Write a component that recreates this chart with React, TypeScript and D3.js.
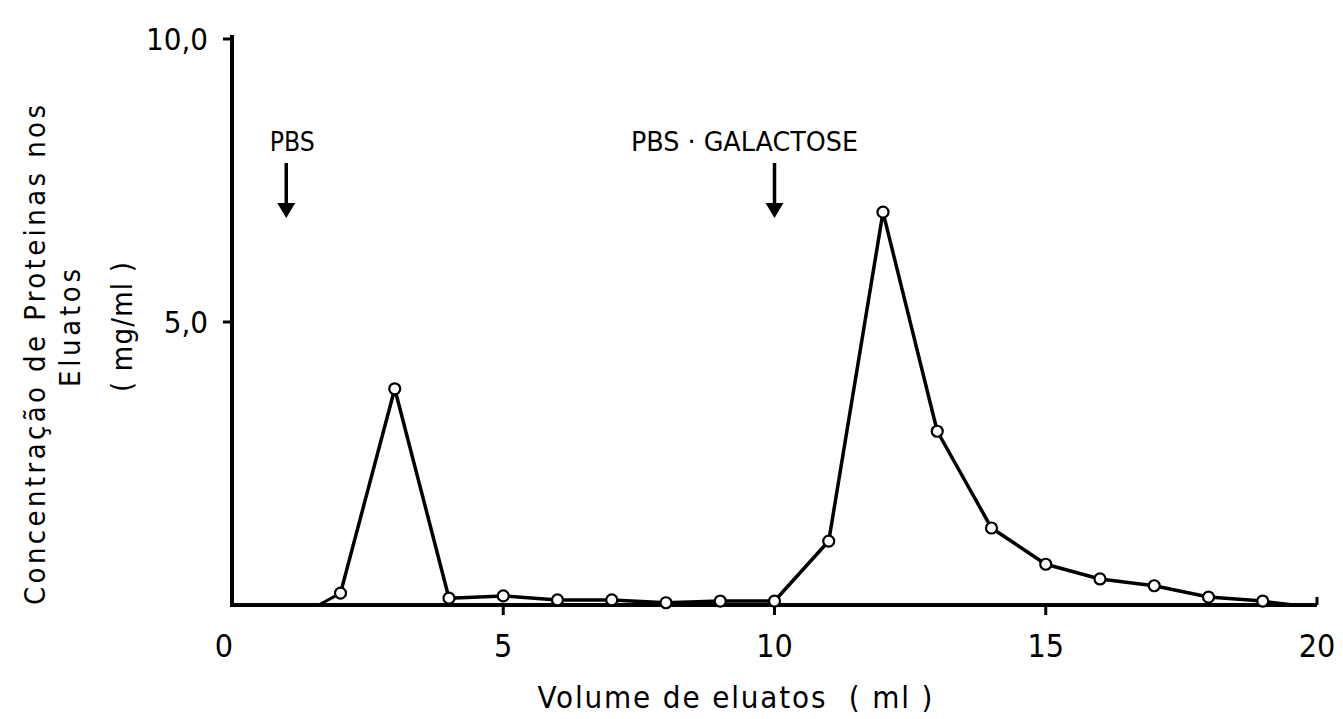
import * as d3 from "d3";

// Eluted volume (ml) and protein concentration (mg/ml)
const volumes = [2, 3, 4, 5, 6, 7, 8, 9, 10, 11, 12, 13, 14, 15, 16, 17, 18, 19];
const concentrations = [0.21, 3.82, 0.12, 0.16, 0.09, 0.09, 0.04, 0.07, 0.07, 1.13, 6.94, 3.07, 1.36, 0.72, 0.46, 0.34, 0.14, 0.07];

const xTicks = [0, 5, 10, 15, 20];
const xTickLabels = ["0", "5", "10", "15", "20"];
const yTicks = [5, 10];
const yTickLabels = ["5,0", "10,0"];

const markerVolumes = [1, 10];
const markerLabels = ["PBS", "PBS · GALACTOSE"];

const W = 1343;
const H = 719;
const FONT = "'DejaVu Sans Condensed', 'DejaVu Sans', sans-serif";

// label placement relative to arrow (px) and label widths
const labelShift = [6, -30];
const labelWidth = [45, 227];

export default function App() {
  const x = d3.scaleLinear().domain([0, 20]).range([232, 1317]);
  const y = d3.scaleLinear().domain([0, 10]).range([605, 39]);

  const points = volumes.map((v, i) => ({ v, c: concentrations[i] }));
  const line = d3
    .line<{ v: number; c: number }>()
    .x((d) => x(d.v))
    .y((d) => y(d.c));

  return (
    <svg
      width={W}
      height={H}
      viewBox={`0 0 ${W} ${H}`}
      style={{ position: "absolute", left: 0, top: 0, background: "#fff" }}
      fontFamily={FONT}
    >
      {/* axes */}
      <line x1={x(0)} x2={x(0)} y1={y(0) + 2} y2={y(10) - 4} stroke="#000" strokeWidth={4} />
      <line x1={x(0) - 2} x2={x(20)} y1={y(0)} y2={y(0)} stroke="#000" strokeWidth={4} />

      {yTicks.map((t, i) => (
        <g key={t}>
          <line x1={x(0) - 9} x2={x(0)} y1={y(t)} y2={y(t)} stroke="#000" strokeWidth={3} />
          <text x={x(0) - 24} y={y(t)} dy="0.36em" textAnchor="end" fontSize={31}>
            {yTickLabels[i]}
          </text>
        </g>
      ))}

      {xTicks.map((t, i) => (
        <g key={t}>
          {t > 0 && (
            <line x1={x(t)} x2={x(t)} y1={y(0)} y2={y(0) + (t === 20 ? -8 : 10)} stroke="#000" strokeWidth={3} />
          )}
          <text x={x(t) - (t === 0 ? 8 : 0)} y={657} textAnchor="middle" fontSize={32}>
            {xTickLabels[i]}
          </text>
        </g>
      ))}

      {/* baseline trace along the axis */}
      <line x1={x(1.6)} x2={x(2)} y1={y(0)} y2={y(concentrations[0])} stroke="#000" strokeWidth={3} />
      <line x1={x(19)} x2={x(19.6)} y1={y(concentrations[concentrations.length - 1])} y2={y(0)} stroke="#000" strokeWidth={3} />

      {/* data */}
      <path d={line(points) ?? ""} fill="none" stroke="#000" strokeWidth={3.5} strokeLinejoin="round" />
      {points.map((d) => (
        <circle key={d.v} cx={x(d.v)} cy={y(d.c)} r={5.5} fill="#fff" stroke="#000" strokeWidth={2.2} />
      ))}

      {/* buffer arrows */}
      {markerVolumes.map((m, i) => (
        <g key={markerLabels[i]}>
          <text
            x={x(m) + labelShift[i]}
            y={151}
            textAnchor="middle"
            fontSize={27}
            textLength={labelWidth[i]}
            lengthAdjust="spacingAndGlyphs"
          >
            {markerLabels[i]}
          </text>
          <line x1={x(m)} x2={x(m)} y1={163} y2={206} stroke="#000" strokeWidth={3.5} />
          <path d={`M${x(m) - 9},203 L${x(m) + 9},203 L${x(m)},218 Z`} fill="#000" />
        </g>
      ))}

      {/* axis titles */}
      <text x={735} y={708} textAnchor="middle" fontSize={31} textLength={395} lengthAdjust="spacing">
        Volume de eluatos{"\u00a0\u00a0"}( ml )
      </text>
      <g transform="translate(45,355) rotate(-90)">
        <text x={0} y={0} textAnchor="middle" fontSize={29} textLength={500} lengthAdjust="spacing">
          Concentração de Proteinas nos
        </text>
      </g>
      <g transform="translate(80,328) rotate(-90)">
        <text x={0} y={0} textAnchor="middle" fontSize={29} textLength={118} lengthAdjust="spacing">
          Eluatos
        </text>
      </g>
      <g transform="translate(132,327) rotate(-90)">
        <text x={0} y={0} textAnchor="middle" fontSize={29} textLength={130} lengthAdjust="spacing">
          ( mg/ml )
        </text>
      </g>
    </svg>
  );
}
